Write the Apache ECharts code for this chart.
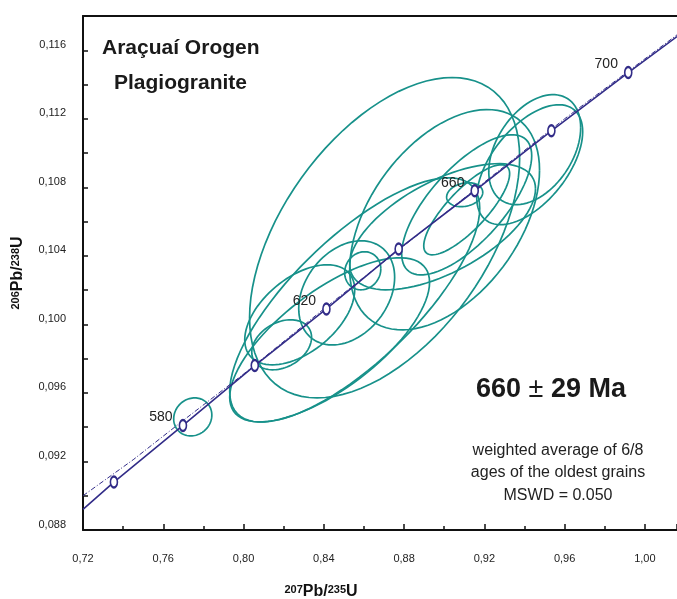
<!DOCTYPE html>
<html>
<head>
<meta charset="utf-8">
<title>Concordia</title>
<script src="https://cdn.jsdelivr.net/npm/echarts@6/dist/echarts.min.js"></script>
<style>
  html, body { margin: 0; padding: 0; background: #fff; }
  #chart { width: 677px; height: 599px; }
</style>
</head>
<body>
<div id="chart"></div>
<script>
// concordia reference points (age in Ma, 207Pb/235U, 206Pb/238U)
const concordiaAges = [560, 580, 600, 620, 640, 660, 680, 700]
const concordiaX = [0.7354, 0.7698, 0.8056, 0.8413, 0.8773, 0.9152, 0.9534, 0.9917]
const concordiaY = [0.0908, 0.0941, 0.0976, 0.1009, 0.1044, 0.1078, 0.1113, 0.1147]
const labelledAges = [580, 620, 660, 700]

// concordia curve, drawn through the picture's points
const curveX = [0.720, 0.7354, 0.7698, 0.8056, 0.8413, 0.8773, 0.9152, 0.9534, 0.9917, 1.016]
const curveY = [0.0892, 0.0908, 0.0941, 0.0976, 0.1009, 0.1044, 0.1078, 0.1113, 0.1147, 0.1168]

// dash-dot envelope above the curve
const envelopeX = [0.720, 0.745, 0.770, 0.800, 0.840, 0.880, 0.920, 0.960, 1.016]
const envelopeY = [0.0900, 0.0921, 0.0944, 0.0971, 0.1009, 0.1046, 0.1083, 0.1120, 0.1169]

// error ellipses: centre, half-width, half-height, correlation
const ellX = [0.7747, 0.8703, 0.9002, 0.8554, 0.8429, 0.8514, 0.8190, 0.8280, 0.8594, 0.8992, 0.9112, 0.9112, 0.9102, 0.9451, 0.9426]
const ellY = [0.0946, 0.10506, 0.10611, 0.10143, 0.0991, 0.10184, 0.09881, 0.10056, 0.10313, 0.1057, 0.10698, 0.10669, 0.10757, 0.1102, 0.10932]
const ellSx = [0.0095, 0.0673, 0.0473, 0.0623, 0.0498, 0.0239, 0.0149, 0.0274, 0.0090, 0.0463, 0.0324, 0.0214, 0.0090, 0.0229, 0.0264]
const ellSy = [0.00111, 0.00935, 0.00643, 0.00713, 0.00479, 0.00304, 0.00146, 0.00292, 0.00111, 0.00368, 0.00409, 0.00263, 0.00070, 0.00321, 0.00350]
const ellRho = [0.1, 0.5, 0.45, 0.75, 0.7, 0.3, 0.3, 0.5, 0.1, 0.6, 0.7, 0.8, 0.2, 0.4, 0.55]

const teal = '#17918a'
const indigo = '#322c88'
const font = '"Liberation Sans", Arial, sans-serif'

const chart = echarts.init(document.getElementById('chart'))

const comma = (v, d) => v.toFixed(d).replace('.', ',')

const ellipseData = ellX.map((x, i) => [x, ellY[i], ellSx[i], ellSy[i], ellRho[i]])

const renderEllipse = (params, api) => {
  const cx = api.value(0)
  const cy = api.value(1)
  const sx = api.value(2)
  const sy = api.value(3)
  const r = api.value(4)
  const q = Math.sqrt(1 - r * r)
  const pts = []
  for (let i = 0; i <= 90; i++) {
    const t = i / 90 * Math.PI * 2
    pts.push(api.coord([cx + sx * Math.cos(t), cy + sy * (r * Math.cos(t) + q * Math.sin(t))]))
  }
  return {
    type: 'polyline',
    shape: { points: pts },
    style: { fill: null, stroke: teal, lineWidth: 1.7 }
  }
}

const nameRich = {
  main: { fontSize: 16, fontWeight: 'bold', fontFamily: font, color: '#111', lineHeight: 16, verticalAlign: 'bottom' },
  sup: { fontSize: 11, fontWeight: 'bold', fontFamily: font, color: '#111', lineHeight: 16, verticalAlign: 'top' }
}

const option = {
  animation: false,
  grid: { left: 83, right: 0, top: 16, bottom: 69, containLabel: false, outerBoundsMode: 'none' },
  xAxis: [{
    type: 'value',
    min: 0.72,
    max: 1.016,
    interval: 0.04,
    name: '{sup|207}{main|Pb/}{sup|235}{main|U}',
    nameLocation: 'middle',
    nameGap: 54,
    nameTextStyle: { rich: nameRich, padding: [0, 118, 0, 0] },
    axisLine: { lineStyle: { color: '#111', width: 2 } },
    axisTick: { inside: true, length: 6, lineStyle: { color: '#111', width: 1.5 } },
    minorTick: { show: true, splitNumber: 2, length: 4, lineStyle: { color: '#111', width: 1.5 } },
    splitLine: { show: false },
    axisLabel: {
      margin: 23,
      fontSize: 11,
      fontFamily: font,
      color: '#222',
      verticalAlign: 'top',
      showMaxLabel: false,
      formatter: v => comma(v, 2)
    }
  }, {
    type: 'value',
    position: 'top',
    min: 0.72,
    max: 1.016,
    axisLine: { show: true, lineStyle: { color: '#111', width: 2 } },
    axisTick: { show: false },
    axisLabel: { show: false },
    splitLine: { show: false }
  }],
  yAxis: {
    type: 'value',
    min: 0.088,
    max: 0.118,
    interval: 0.004,
    name: '{sup|206}{main|Pb/}{sup|238}{main|U}',
    nameLocation: 'middle',
    nameRotate: 90,
    nameGap: 57,
    nameTextStyle: { rich: nameRich },
    axisLine: { lineStyle: { color: '#111', width: 2 } },
    axisTick: { inside: true, length: 5, lineStyle: { color: '#111', width: 1.5 } },
    minorTick: { show: true, splitNumber: 2, length: 5, lineStyle: { color: '#111', width: 1.5 } },
    splitLine: { show: false },
    axisLabel: {
      margin: 17,
      fontSize: 11,
      fontFamily: font,
      color: '#222',
      verticalAlign: 'bottom',
      showMaxLabel: false,
      formatter: v => comma(v, 3)
    }
  },
  series: [
    {
      type: 'custom',
      name: 'ellipses',
      renderItem: renderEllipse,
      data: ellipseData,
      encode: { x: 0, y: 1 },
      clip: true,
      z: 2
    },
    {
      type: 'line',
      name: 'envelope',
      data: envelopeX.map((x, i) => [x, envelopeY[i]]),
      symbol: 'none',
      lineStyle: { color: indigo, width: 1, type: [5, 2, 1, 2] },
      z: 3
    },
    {
      type: 'line',
      name: 'concordia',
      data: curveX.map((x, i) => [x, curveY[i]]),
      symbol: 'none',
      lineStyle: { color: indigo, width: 1.6 },
      z: 4
    },
    {
      type: 'scatter',
      name: 'ages',
      data: concordiaX.map((x, i) => [x, concordiaY[i], concordiaAges[i]]),
      symbol: 'circle',
      symbolSize: [7, 11],
      itemStyle: { color: '#fff', borderColor: indigo, borderWidth: 2, opacity: 1 },
      label: {
        show: true,
        position: 'left',
        distance: 6,
        offset: [0, -8],
        fontSize: 14,
        fontFamily: font,
        color: '#222',
        formatter: p => labelledAges.includes(p.value[2]) ? String(p.value[2]) : ''
      },
      z: 5
    }
  ],
  graphic: [
    { type: 'text', left: 102, top: 38, style: { text: 'Araçuaí Orogen', font: 'bold 21px ' + font, fill: '#1a1a1a' } },
    { type: 'text', left: 114, top: 73, style: { text: 'Plagiogranite', font: 'bold 21px ' + font, fill: '#1a1a1a' } },
    {
      type: 'text',
      x: 551,
      y: 376,
      style: {
        text: '{b|660}{n| \u00b1 }{b|29 Ma}',
        align: 'center',
        verticalAlign: 'top',
        rich: {
          b: { font: 'bold 27px ' + font, fill: '#1a1a1a' },
          n: { font: '27px ' + font, fill: '#1a1a1a' }
        }
      }
    },
    {
      type: 'text',
      x: 558,
      y: 439,
      style: {
        text: 'weighted average of 6/8\nages of the oldest grains\nMSWD = 0.050',
        font: '16px ' + font,
        lineHeight: 22.5,
        align: 'center',
        verticalAlign: 'top',
        fill: '#222'
      }
    }
  ]
}

chart.setOption(option)
</script>
</body>
</html>
